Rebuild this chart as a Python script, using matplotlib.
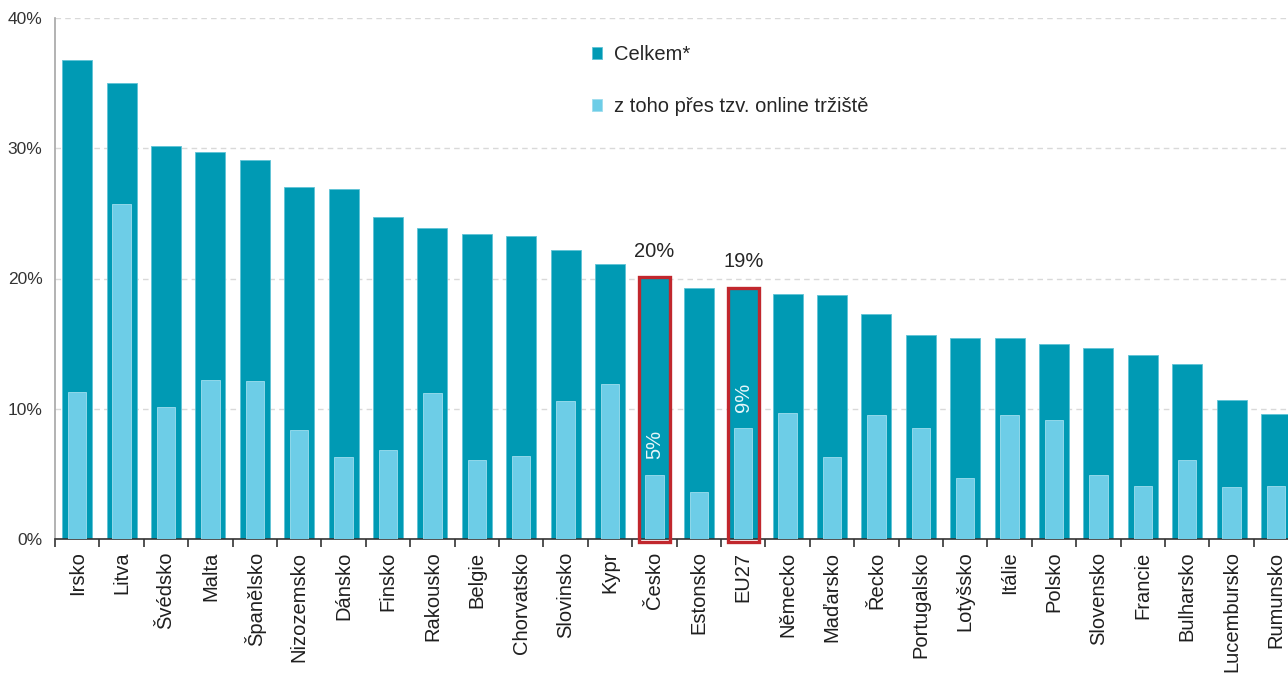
import matplotlib.pyplot as plt
import numpy as np

plt.rcParams['font.family'] = ['Liberation Sans', 'DejaVu Sans']

# data (share of people, %)
countries = ['Irsko', 'Litva', 'Švédsko', 'Malta', 'Španělsko', 'Nizozemsko', 'Dánsko',
             'Finsko', 'Rakousko', 'Belgie', 'Chorvatsko', 'Slovinsko', 'Kypr', 'Česko',
             'Estonsko', 'EU27', 'Německo', 'Maďarsko', 'Řecko', 'Portugalsko', 'Lotyšsko',
             'Itálie', 'Polsko', 'Slovensko', 'Francie', 'Bulharsko', 'Lucembursko', 'Rumunsko']
celkem = [36.8, 35.0, 30.2, 29.7, 29.1, 27.0, 26.9, 24.7, 23.9, 23.4, 23.3, 22.2, 21.1, 20.1,
          19.3, 19.3, 18.8, 18.7, 17.3, 15.7, 15.4, 15.4, 15.0, 14.7, 14.1, 13.4, 10.7, 9.6]
trziste = [11.3, 25.7, 10.1, 12.2, 12.1, 8.4, 6.3, 6.8, 11.2, 6.1, 6.4, 10.6, 11.9, 4.9,
           3.6, 8.5, 9.7, 6.3, 9.5, 8.5, 4.7, 9.5, 9.1, 4.9, 4.1, 6.1, 4.0, 4.1]
highlight = {'Česko': ('20%', '5%'), 'EU27': ('19%', '9%')}

dark = '#009AB4'
light = '#6DCDE7'
red = '#C1272D'

fig = plt.figure(figsize=(12.88, 6.77), dpi=100)
ax = fig.add_axes([55 / 1288, 138 / 677, 1243.2 / 1288, 521 / 677])

x = np.arange(len(countries))
b1 = ax.bar(x, celkem, width=0.675, color=dark, edgecolor='#5FC3D6', linewidth=0.6,
            zorder=2, label='Celkem*')
b2 = ax.bar(x, trziste, width=0.41, color=light, edgecolor='#9FDDEE', linewidth=0.6,
            zorder=3, label='z toho přes tzv. online tržiště')

for name, (top_lbl, in_lbl) in highlight.items():
    i = countries.index(name)
    ax.bar(i, celkem[i] + 0.2, bottom=-0.2, width=0.7, fill=False, edgecolor=red,
           linewidth=2.4, zorder=4, clip_on=False)
    ax.annotate(top_lbl, (i, celkem[i]), xytext=(0, 12), textcoords='offset points',
                ha='center', va='bottom', fontsize=14.5, color='#262626')
    ax.annotate(in_lbl, (i, trziste[i]), xytext=(0, 12), textcoords='offset points',
                ha='center', va='bottom', rotation=90, fontsize=14.5, color='#E6F6FA',
                zorder=5)

ax.set_xlim(-0.5, len(countries) - 0.5)
ax.set_ylim(0, 40)
ax.set_yticks([0, 10, 20, 30, 40])
ax.set_yticklabels(['0%', '10%', '20%', '30%', '40%'])
ax.yaxis.grid(True, color='#D9D9D9', linestyle=(0, (4, 3)), linewidth=1)
ax.set_axisbelow(True)

ax.set_xticks(x)
ax.set_xticklabels(countries, rotation=90, fontsize=14.5, color='#1F1F1F')
ax.set_xticks(np.arange(len(countries) + 1) - 0.5, minor=True)
ax.tick_params(axis='x', which='major', length=0, pad=9)
ax.tick_params(axis='x', which='minor', length=6, width=1.2, color='#333333', direction='out')
ax.tick_params(axis='y', length=0, pad=9, labelsize=12.5, labelcolor='#333333')

for s in ['top', 'right']:
    ax.spines[s].set_visible(False)
ax.spines['left'].set_color('#A6A6A6')
ax.spines['left'].set_linewidth(1.2)
ax.spines['bottom'].set_color('#333333')
ax.spines['bottom'].set_linewidth(1.2)

fig.legend(handles=[b1, b2], loc='upper left', bbox_to_anchor=(592 / 1288, 1 - 45 / 677),
           frameon=False, fontsize=14.5, handlelength=0.5, handleheight=0.5,
           handletextpad=0.6, labelspacing=1.65, borderpad=0, borderaxespad=0,
           labelcolor='#262626')

fig.savefig('out.png', dpi=100)
